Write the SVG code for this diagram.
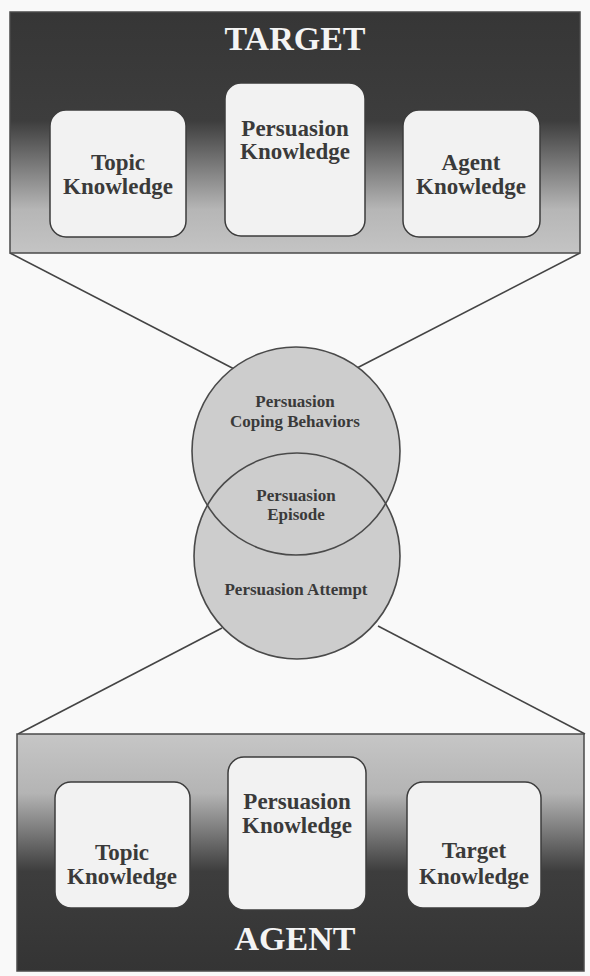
<svg xmlns="http://www.w3.org/2000/svg" width="590" height="976" viewBox="0 0 590 976">
<defs>
<linearGradient id="gTop" x1="0" y1="12" x2="0" y2="253" gradientUnits="userSpaceOnUse">
<stop offset="0" stop-color="#363636"/>
<stop offset="0.45" stop-color="#3d3d3d"/>
<stop offset="0.82" stop-color="#b6b6b6"/>
<stop offset="1" stop-color="#c4c4c4"/>
</linearGradient>
<linearGradient id="gBot" x1="0" y1="734" x2="0" y2="971" gradientUnits="userSpaceOnUse">
<stop offset="0" stop-color="#c6c6c6"/>
<stop offset="0.25" stop-color="#b4b4b4"/>
<stop offset="0.58" stop-color="#3d3d3d"/>
<stop offset="1" stop-color="#343434"/>
</linearGradient>
<style>
.outer{stroke:#4a4a4a;stroke-width:1.5}
.inner{fill:#f2f2f2;stroke:#3c3c3c;stroke-width:1.5}
.title{font-family:"Liberation Serif","Times New Roman",serif;font-weight:bold;font-size:34px;fill:#f4f4f4;text-anchor:middle}
.lbl{font-family:"Liberation Serif","Times New Roman",serif;font-weight:bold;font-size:23px;fill:#3a3a3a;text-anchor:middle}
.clbl{font-family:"Liberation Serif","Times New Roman",serif;font-weight:bold;font-size:17px;fill:#3a3a3a;text-anchor:middle}
.conn{stroke:#444;stroke-width:1.6;fill:none}
.cfill{fill:#cdcdcd;stroke:none}
.cline{fill:none;stroke:#4a4a4a;stroke-width:1.6}
</style>
</defs>
<rect x="0" y="0" width="590" height="976" fill="#f9f9f9"/>
<g id="connectors">
<line class="conn" x1="10" y1="253" x2="240" y2="372"/>
<line class="conn" x1="580" y1="253" x2="355" y2="369"/>
<line class="conn" x1="18" y1="734" x2="222" y2="628"/>
<line class="conn" x1="585" y1="734" x2="378" y2="626"/>
</g>
<g id="target">
<rect class="outer" x="10" y="12" width="570" height="241" fill="url(#gTop)"/>
<text class="title" x="295" y="50">TARGET</text>
</g>
<g id="target-topic">
<rect class="inner" x="50" y="110" width="136" height="127" rx="16"/>
<text class="lbl" x="118" y="170">Topic</text>
<text class="lbl" x="118" y="194">Knowledge</text>
</g>
<g id="target-persuasion">
<rect class="inner" x="225" y="83" width="140" height="153" rx="16"/>
<text class="lbl" x="295" y="136">Persuasion</text>
<text class="lbl" x="295" y="159">Knowledge</text>
</g>
<g id="target-agent">
<rect class="inner" x="403" y="110" width="137" height="127" rx="16"/>
<text class="lbl" x="471" y="170">Agent</text>
<text class="lbl" x="471" y="194">Knowledge</text>
</g>
<g id="episode">
<circle class="cfill" cx="296" cy="451" r="104"/>
<circle class="cfill" cx="297" cy="556" r="103"/>
<circle class="cline" cx="296" cy="451" r="104"/>
<circle class="cline" cx="297" cy="556" r="103"/>
<text class="clbl" x="295" y="407">Persuasion</text>
<text class="clbl" x="295" y="427">Coping Behaviors</text>
<text class="clbl" x="296" y="501">Persuasion</text>
<text class="clbl" x="296" y="520">Episode</text>
<text class="clbl" x="296" y="595">Persuasion Attempt</text>
</g>
<g id="agent">
<rect class="outer" x="17" y="734" width="567" height="237" fill="url(#gBot)"/>
<text class="title" x="295" y="950">AGENT</text>
</g>
<g id="agent-topic">
<rect class="inner" x="55" y="782" width="135" height="126" rx="16"/>
<text class="lbl" x="122" y="860">Topic</text>
<text class="lbl" x="122" y="884">Knowledge</text>
</g>
<g id="agent-persuasion">
<rect class="inner" x="228" y="757" width="138" height="153" rx="16"/>
<text class="lbl" x="297" y="809">Persuasion</text>
<text class="lbl" x="297" y="833">Knowledge</text>
</g>
<g id="agent-target">
<rect class="inner" x="407" y="782" width="134" height="126" rx="16"/>
<text class="lbl" x="474" y="858">Target</text>
<text class="lbl" x="474" y="884">Knowledge</text>
</g>
</svg>
